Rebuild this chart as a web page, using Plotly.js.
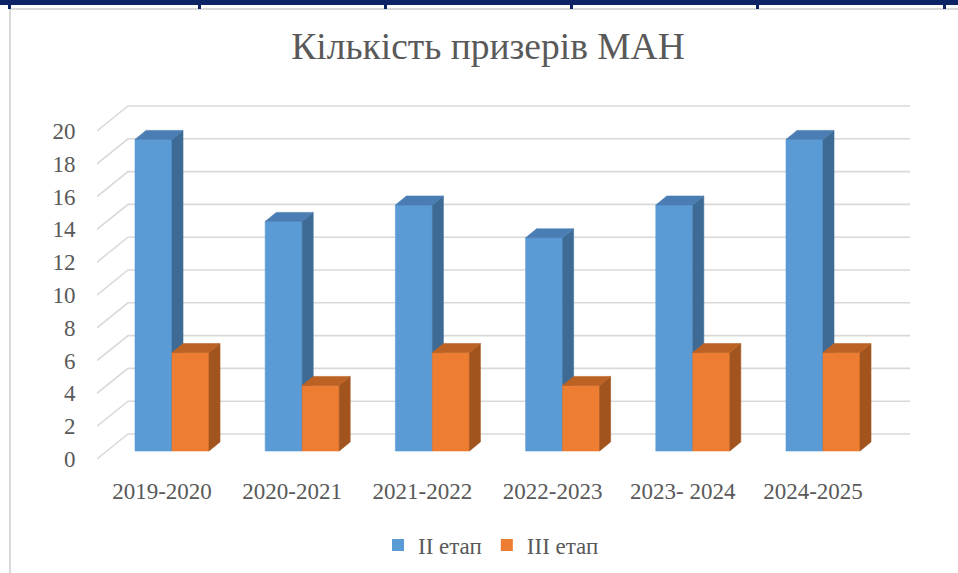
<!DOCTYPE html>
<html>
<head>
<meta charset="utf-8">
<script src="https://cdn.plot.ly/plotly-3.0.1.min.js"></script>
<style>
  html, body { margin: 0; padding: 0; background: #ffffff; }
  #wrap { position: relative; width: 958px; height: 573px; overflow: hidden; }
  #chart { position: absolute; left: 0; top: 0; width: 958px; height: 573px; }
  .deco { position: absolute; pointer-events: none; }
</style>
</head>
<body>
<div id="wrap">
  <div id="chart"></div>
  <div class="deco" style="left:9px;top:8px;width:949px;height:2px;background:#d9d9d9;"></div>
  <div class="deco" style="left:9px;top:8px;width:2px;height:565px;background:#d9d9d9;"></div>
  <div class="deco" style="left:0;top:0;width:958px;height:5px;background:#0c2366;"></div>
  <div class="deco" style="left:8px;top:0;width:3px;height:9px;background:#0c2366;"></div>
  <div class="deco" style="left:198px;top:0;width:3px;height:9px;background:#0c2366;"></div>
  <div class="deco" style="left:384px;top:0;width:3px;height:9px;background:#0c2366;"></div>
  <div class="deco" style="left:570px;top:0;width:3px;height:9px;background:#0c2366;"></div>
  <div class="deco" style="left:756px;top:0;width:3px;height:9px;background:#0c2366;"></div>
  <div class="deco" style="left:943px;top:0;width:3px;height:9px;background:#0c2366;"></div>
</div>
<script>
// ---- data ----
const categories = ['2019-2020', '2020-2021', '2021-2022', '2022-2023', '2023- 2024', '2024-2025'];
const stage2 = [19, 14, 15, 13, 15, 19];   // II етап
const stage3 = [6, 4, 6, 4, 6, 6];         // III етап
const seriesNames = ['II етап', 'III етап'];
const yTicks = [0, 2, 4, 6, 8, 10, 12, 14, 16, 18, 20];

// ---- geometry (pixel scale helpers) ----
const W = 958, H = 573;
const M = { l: 97, r: 48, t: 100, b: 108 };
const XPU = 130.2;          // px per category
const YPU = 16.4;           // px per value unit
const xRange = [-75 / XPU, (W - M.l - M.r - 75) / XPU];
const yRange = [-6 / YPU, (H - M.t - M.b - 6) / YPU];

const barW = 37 / XPU;
const bdx = 11 / XPU, bdy = 9 / YPU;     // bar depth offsets
const base = 8 / YPU;                     // bar floor lift
const gdx = 31 / XPU, gdy = 25 / YPU;    // wall depth offsets

const FONT = 'Liberation Serif';
const traces = [];

// gridlines (floor diagonal + back wall)
(function () {
  const gx = [], gy = [];
  yTicks.forEach(v => {
    gx.push(xRange[0], xRange[0] + gdx, xRange[1], null);
    gy.push(v, v + gdy, v + gdy, null);
  });
  traces.push({ type: 'scatter', mode: 'lines', x: gx, y: gy, showlegend: false, hoverinfo: 'skip',
    line: { color: '#d9d9d9', width: 1.6 } });
})();

function faces(vals, side) {
  const fx = [], fy = [], sx = [], sy = [], tx = [], ty = [];
  vals.forEach((v, i) => {
    const x0 = side === 0 ? i - barW : i;
    const x1 = x0 + barW;
    const b = base, t = base + v;
    fx.push(x0, x1, x1, x0, x0, null); fy.push(b, b, t, t, b, null);
    sx.push(x1, x1 + bdx, x1 + bdx, x1, x1, null); sy.push(b, b + bdy, t + bdy, t, b, null);
    tx.push(x0, x1, x1 + bdx, x0 + bdx, x0, null); ty.push(t, t, t + bdy, t + bdy, t, null);
  });
  return { fx, fy, sx, sy, tx, ty };
}
const colors = [
  { front: '#5b9bd5', side: '#3e6b95', top: '#4a7db3' },
  { front: '#ed7d31', side: '#a2541f', top: '#bb6224' }
];
[stage2, stage3].forEach((vals, s) => {
  const f = faces(vals, s);
  const c = colors[s];
  [[f.fx, f.fy, c.front], [f.sx, f.sy, c.side], [f.tx, f.ty, c.top]].forEach(([x, y, col]) => {
    traces.push({ type: 'scatter', mode: 'lines', x: x, y: y, fill: 'toself', fillcolor: col,
      line: { color: col, width: 0.6 }, showlegend: false, hoverinfo: 'skip' });
  });
});

// legend entries
seriesNames.forEach((n, s) => {
  traces.push({ type: 'scatter', mode: 'markers', x: [null], y: [null], name: n,
    marker: { symbol: 'square', size: 12, color: colors[s].front } });
});

const tickShift = -10 / XPU;
const layout = {
  width: W, height: H,
  margin: M,
  paper_bgcolor: '#ffffff', plot_bgcolor: 'rgba(0,0,0,0)',
  font: { family: FONT, color: '#595959', size: 23 },
  title: { text: 'Кількість призерів МАН', font: { family: FONT, size: 37.5, color: '#595959' },
    x: 488 / W, xanchor: 'center', xref: 'container', y: 1 - 46 / H, yanchor: 'middle', yref: 'container' },
  xaxis: { range: xRange, showgrid: false, zeroline: false, showline: false,
    tickmode: 'array', tickvals: categories.map((c, i) => i + tickShift), ticktext: categories,
    ticks: 'outside', ticklen: 5, tickcolor: 'rgba(0,0,0,0)', tickfont: { family: FONT, size: 23 }, fixedrange: true },
  yaxis: { range: yRange, showgrid: false, zeroline: false, showline: false,
    tickmode: 'array', tickvals: yTicks, ticktext: yTicks.map(String),
    ticks: 'outside', ticklen: 16, tickcolor: 'rgba(0,0,0,0)', tickfont: { family: FONT, size: 23 }, fixedrange: true },
  showlegend: true,
  legend: { orientation: 'h', x: 491 / W, xanchor: 'center', xref: 'container',
    y: 1 - 545 / H, yanchor: 'middle', yref: 'container', font: { family: FONT, size: 23, color: '#595959' },
    bgcolor: 'rgba(0,0,0,0)' },
  hovermode: false
};

Plotly.newPlot('chart', traces, layout, { displayModeBar: false, staticPlot: true });
</script>
</body>
</html>
